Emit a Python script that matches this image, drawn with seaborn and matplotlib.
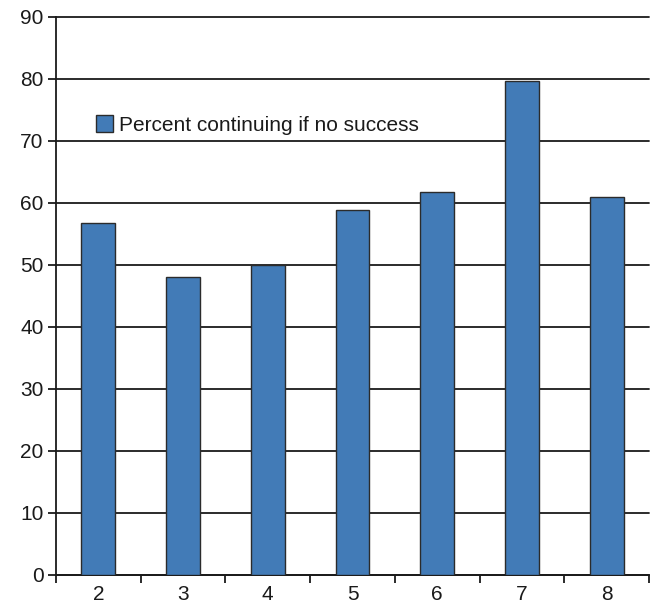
import matplotlib
matplotlib.use("Agg")
import matplotlib.pyplot as plt
from matplotlib.ticker import FixedLocator
import seaborn as sns
import pandas as pd

categories = ["2", "3", "4", "5", "6", "7", "8"]
percent_continuing = [56.7, 48.1, 50.0, 58.9, 61.7, 79.7, 60.9]
series_label = "Percent continuing if no success"
y_ticks = [0, 10, 20, 30, 40, 50, 60, 70, 80, 90]

df = pd.DataFrame({"round": categories, "value": percent_continuing,
                   "series": series_label})

sns.set_style("white")
plt.rcParams["font.family"] = ["Liberation Sans", "DejaVu Sans"]

fig = plt.figure(figsize=(6.54, 6.04), dpi=100)
ax = fig.add_axes([56 / 654, 1 - 575 / 604, 593 / 654, 558 / 604])

sns.barplot(data=df, x="round", y="value", hue="series", ax=ax,
            palette=["#427bb7"], width=0.4, edgecolor="#2b2b2b",
            linewidth=1.0, saturation=1.0, zorder=3)

ax.set_xlim(-0.5, len(categories) - 0.5)
ax.set_ylim(0, 90)
ax.set_yticks(y_ticks)
ax.set_xlabel("")
ax.set_ylabel("")

# horizontal grid lines
ax.yaxis.grid(True, color="#1a1a1a", linewidth=1.3, zorder=0)
ax.xaxis.grid(False)
ax.set_axisbelow(True)
for gl in ax.get_ygridlines():
    gl.set_clip_on(False)

for side in ["top", "right"]:
    ax.spines[side].set_visible(False)
for side in ["left", "bottom"]:
    ax.spines[side].set_color("#1a1a1a")
    ax.spines[side].set_linewidth(1.3)

# tick marks between categories, labels centered under bars
ax.xaxis.set_minor_locator(FixedLocator([i - 0.5 for i in range(len(categories) + 1)]))
ax.tick_params(axis="x", which="major", length=0, labelsize=15, pad=7,
               colors="#1a1a1a")
ax.tick_params(axis="x", which="minor", length=6, width=1.3, direction="out",
               color="#1a1a1a", bottom=True)
ax.tick_params(axis="y", which="major", length=6, width=1.3, direction="out",
               labelsize=15, pad=3, colors="#1a1a1a", left=True)

leg = ax.legend(loc="center left", bbox_to_anchor=(0.067, 0.806), frameon=False,
                fontsize=15, handlelength=0.85, handleheight=0.85,
                handletextpad=0.25, borderaxespad=0, borderpad=0)
for t in leg.get_texts():
    t.set_color("#1a1a1a")

fig.savefig("out.png", dpi=100)
